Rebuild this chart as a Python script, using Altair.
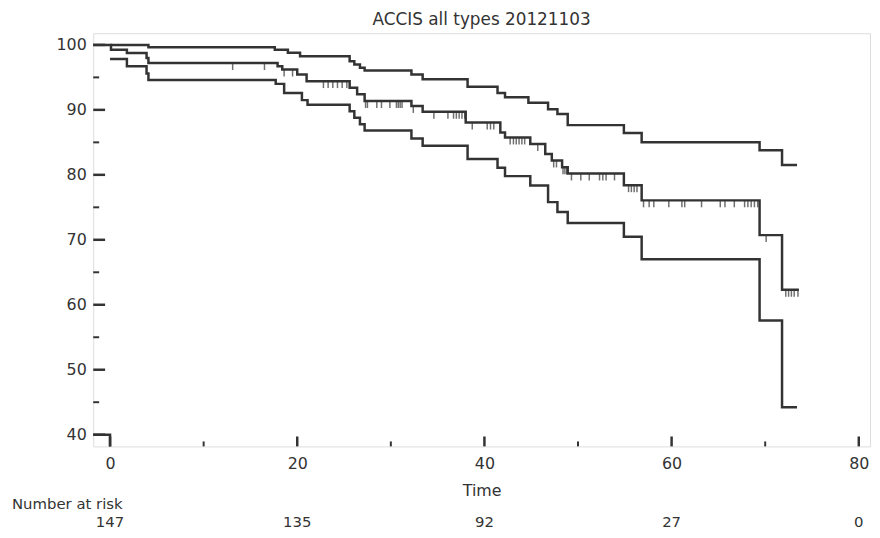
import altair as alt
import pandas as pd

title_text = "ACCIS all types 20121103"

# Upper confidence limit (step changes)
upper_t = [-1.8, 4.1, 17.6, 19.0, 20.3, 25.6, 26.1, 26.7, 27.2, 32.2, 33.4, 38.2, 41.4, 42.2,
           44.7, 46.8, 47.8, 48.9, 54.9, 56.8, 69.4, 71.8, 73.4]
upper_v = [100, 99.65, 99.27, 98.8, 98.25, 97.5, 97.0, 96.5, 96.05, 95.45, 94.7, 93.55, 92.6, 91.95,
           91.1, 90.1, 89.35, 87.65, 86.45, 85.0, 83.8, 81.5, 81.5]

# Kaplan-Meier estimate
km_t = [0, 0.1, 1.8, 3.9, 4.1, 17.9, 18.4, 20.0, 21.0, 25.6, 26.4, 27.2, 32.2, 33.4, 38.0,
        41.7, 42.2, 44.9, 46.5, 47.2, 48.3, 48.9, 54.9, 56.8, 69.4, 71.8, 73.6]
km_v = [100, 99.27, 98.75, 98.0, 97.2, 96.7, 96.2, 95.44, 94.42, 93.4, 92.4, 91.36, 90.6, 89.7, 88.04,
        86.5, 85.75, 84.74, 83.2, 82.2, 81.16, 80.2, 78.4, 76.07, 70.72, 62.3, 62.3]

# Lower confidence limit
low_t = [0, 1.8, 3.9, 4.1, 17.7, 18.6, 20.5, 21.1, 25.6, 26.1, 26.7, 27.2, 32.2, 33.4, 38.2,
         41.4, 42.2, 44.9, 46.8, 47.8, 48.9, 54.9, 56.8, 69.4, 71.8, 73.4]
low_v = [97.83, 96.7, 95.6, 94.6, 94.0, 92.6, 91.5, 90.8, 89.8, 88.8, 87.8, 86.83, 85.6, 84.48, 82.45,
         81.1, 79.8, 78.36, 75.8, 74.28, 72.6, 70.46, 67.0, 57.57, 44.22, 44.22]

# small corner segment at bottom-left
corner_t = [-1.8, 0, 0]
corner_v = [40, 40, 38.2]

# Censored observations (time, survival level)
censor_t = [13.1, 16.5, 18.6, 19.5, 22.8, 23.3, 23.8, 24.3, 24.8, 25.3,
            27.3, 27.5, 28.5, 29.0, 29.9, 30.6, 30.8, 31.0, 31.2, 32.4,
            34.6, 36.1, 36.7, 37.0, 37.3, 37.6, 37.9,
            38.7, 40.3, 40.65, 41.0,
            42.75, 43.1, 43.4, 43.7, 44.0, 44.3, 45.7,
            47.4, 47.7, 48.4, 48.6, 48.8,
            49.3, 50.3, 51.2, 52.3, 52.65, 53.0, 53.9,
            55.4, 55.7, 56.0, 56.3,
            57.0, 57.6, 58.1, 59.7, 61.1, 61.4, 63.2, 65.2, 65.7, 66.7, 67.8, 68.15, 68.5, 68.85, 69.2,
            70.1, 72.2, 72.5, 72.8, 73.1, 73.5]
censor_v = [97.2, 97.2, 96.2, 96.2, 94.42, 94.42, 94.42, 94.42, 94.42, 94.42,
            91.36, 91.36, 91.36, 91.36, 91.36, 91.36, 91.36, 91.36, 91.36, 90.6,
            89.7, 89.7, 89.7, 89.7, 89.7, 89.7, 89.7,
            88.04, 88.04, 88.04, 88.04,
            85.75, 85.75, 85.75, 85.75, 85.75, 85.75, 84.74,
            82.2, 82.2, 81.16, 81.16, 81.16,
            80.2, 80.2, 80.2, 80.2, 80.2, 80.2, 80.2,
            78.4, 78.4, 78.4, 78.4,
            76.07, 76.07, 76.07, 76.07, 76.07, 76.07, 76.07, 76.07, 76.07, 76.07, 76.07, 76.07, 76.07, 76.07, 76.07,
            70.72, 62.3, 62.3, 62.3, 62.3, 62.3]

x_major = [0, 20, 40, 60, 80]
x_minor = [10, 30, 50, 70]
y_major = [40, 50, 60, 70, 80, 90, 100]
y_minor = [45, 55, 65, 75, 85, 95]

risk_t = [0, 20, 40, 60, 80]
risk_n = ["147", "135", "92", "27", "0"]

W, H = 784, 417
INK = "#333333"
FONT = "DejaVu Sans"

rows = []
for name, ts, vs in [("upper", upper_t, upper_v), ("km", km_t, km_v), ("lower", low_t, low_v)]:
    for i, (t, v) in enumerate(zip(ts, vs)):
        rows.append({"series": name, "t": t, "v": v, "i": i})
curves = pd.DataFrame(rows)
corner = pd.DataFrame({"t": corner_t, "v": corner_v, "i": list(range(len(corner_t)))})
censor = pd.DataFrame({"t": censor_t, "v": censor_v})
xt_major = pd.DataFrame({"t": x_major})
xt_minor = pd.DataFrame({"t": x_minor})
yt_major = pd.DataFrame({"v": y_major})
yt_minor = pd.DataFrame({"v": y_minor})
risk = pd.DataFrame({"t": risk_t, "n": risk_n})

xs = alt.Scale(domain=[-1.8, 81.2], nice=False, zero=False)
ys = alt.Scale(domain=[38.2, 101.8], nice=False, zero=False)

x_axis = alt.Axis(values=x_major, ticks=False, domain=False, grid=False, labelFontSize=16,
                  labelPadding=9, labelFlush=False, labelColor=INK, labelFont=FONT,
                  title="Time", titleFontSize=16, titleFont=FONT, titleFontWeight="normal",
                  titleColor=INK, titlePadding=12)
y_axis = alt.Axis(values=y_major, ticks=False, domain=False, grid=False, labelFontSize=16,
                  labelPadding=7, labelColor=INK, labelFont=FONT, title=None)

lines = alt.Chart(curves).mark_line(interpolate="step-after", color=INK, strokeWidth=2.5).encode(
    x=alt.X("t:Q", scale=xs, axis=x_axis),
    y=alt.Y("v:Q", scale=ys, axis=y_axis),
    detail="series:N",
    order="i:Q",
)

corner_line = alt.Chart(corner).mark_line(color=INK, strokeWidth=2.5).encode(
    x=alt.X("t:Q", scale=xs), y=alt.Y("v:Q", scale=ys), order="i:Q")

cens = alt.Chart(censor).mark_tick(orient="vertical", color=INK, size=7, thickness=1.5, yOffset=3.5).encode(
    x=alt.X("t:Q", scale=xs), y=alt.Y("v:Q", scale=ys))

xmaj = alt.Chart(xt_major).mark_rule(color=INK, strokeWidth=2.5).encode(
    x=alt.X("t:Q", scale=xs), y=alt.value(H), y2=alt.value(H - 10))
xmin = alt.Chart(xt_minor).mark_rule(color=INK, strokeWidth=2).encode(
    x=alt.X("t:Q", scale=xs), y=alt.value(H), y2=alt.value(H - 5))
ymaj = alt.Chart(yt_major).mark_rule(color=INK, strokeWidth=2.5).encode(
    y=alt.Y("v:Q", scale=ys), x=alt.value(0), x2=alt.value(12))
ymin = alt.Chart(yt_minor).mark_rule(color=INK, strokeWidth=2).encode(
    y=alt.Y("v:Q", scale=ys), x=alt.value(0), x2=alt.value(6))

risk_text = alt.Chart(risk).mark_text(fontSize=15, font=FONT, color=INK, baseline="middle").encode(
    x=alt.X("t:Q", scale=xs), y=alt.value(H + 76), text="n:N")

risk_label = alt.Chart(pd.DataFrame({"s": ["Number at risk"]})).mark_text(
    fontSize=15, font=FONT, color=INK, align="left", baseline="middle").encode(
    x=alt.value(-82), y=alt.value(H + 58), text="s:N")

chart = alt.layer(lines, corner_line, cens, xmaj, xmin, ymaj, ymin, risk_text, risk_label).properties(
    width=W, height=H,
    title=alt.TitleParams(title_text, fontSize=17, font=FONT, fontWeight="normal", color=INK,
                          anchor="middle", offset=4),
    autosize=alt.AutoSizeParams(type="none"),
    padding={"left": 86, "top": 23, "right": 2, "bottom": 88},
).configure_view(stroke=INK, strokeWidth=3).configure(background="white")

chart.save("out.html", embed_options={"renderer": "svg", "actions": False})
